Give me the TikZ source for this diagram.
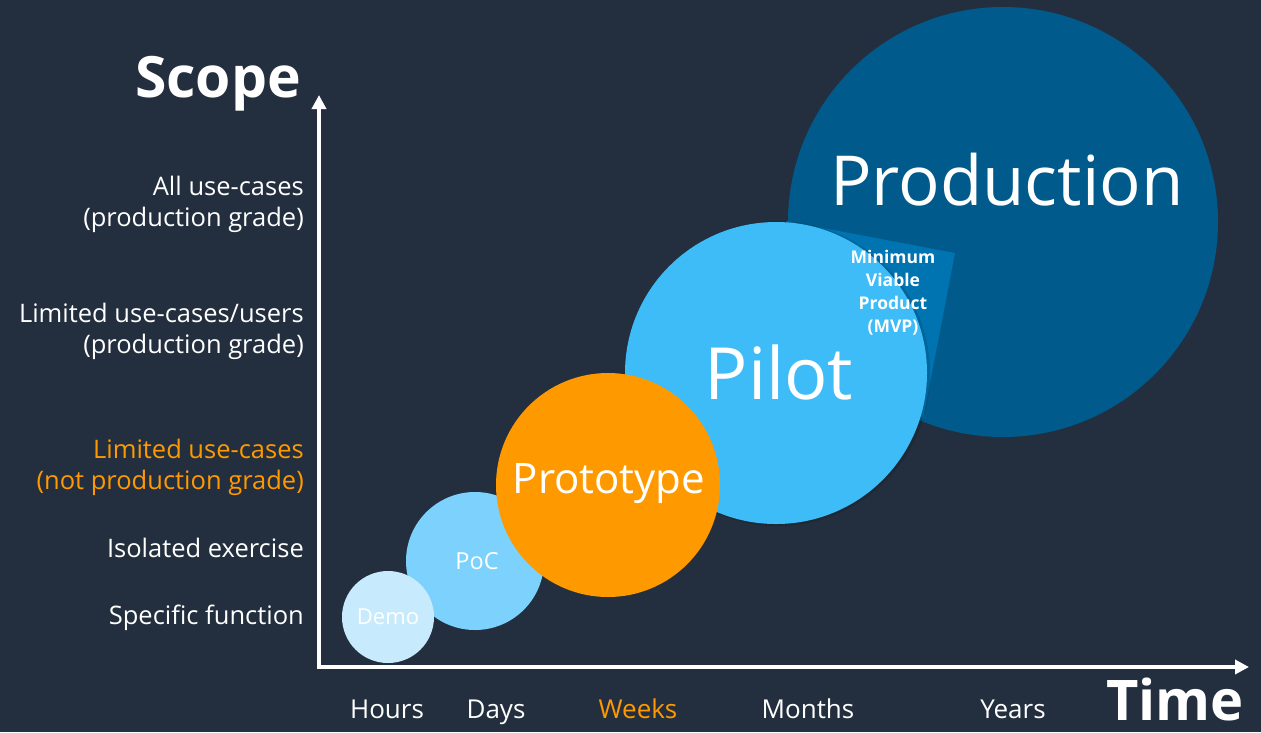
\documentclass[tikz,border=0pt]{standalone}
\usepackage{fontspec}
\setmainfont{Open Sans}
\usetikzlibrary{arrows.meta}
\definecolor{bg}{HTML}{232F3E}
\definecolor{democ}{HTML}{C7EBFD}
\definecolor{pocc}{HTML}{7CD2FC}
\definecolor{protoc}{HTML}{FF9900}
\definecolor{pilotc}{HTML}{3EBCF8}
\definecolor{prodc}{HTML}{005A8B}
\definecolor{mvpc}{HTML}{0073B1}
\definecolor{amzorange}{HTML}{FF9900}
\begin{document}
\begin{tikzpicture}[x=1pt,y=-1pt,
  ylab/.style={anchor=east,align=right,text=white,inner sep=0pt,font=\fontsize{25.5}{31}\selectfont},
  xlab/.style={anchor=base,text=white,font=\fontsize{26}{30}\selectfont},
  axis/.style={white,line width=4pt,-{Triangle[length=14pt,width=14pt]}}]
\fill[bg] (0,0) rectangle (1261,732);
\useasboundingbox (0,0) rectangle (1261,732);
% bubbles
\fill[prodc] (1003,222) circle (215);
\fill[mvpc] (786,221) -- (955,253) -- (923,419) -- cycle;
\fill[black,opacity=0.12] (777.5,373.5) circle (152.5);
\fill[pilotc] (776,373) circle (151);
\fill[pocc] (475,561) circle (69);
\fill[protoc] (608,485) circle (112);
\fill[democ] (388,617) circle (46);
% bubble labels
\node[text=white,font=\fontsize{69}{72}\selectfont] (prod) at (1007,180) {Production};
\node[text=white,font=\fontsize{72}{76}\selectfont] (pilot) at (779,372) {Pilot};
\node[text=white,font=\fontsize{42}{46}\selectfont] (proto) at (609,484) {Prototype};
\node[text=white,font=\fontsize{23.5}{26}\selectfont] (poc) at (477,561) {PoC};
\node[text=white,font=\fontsize{22}{26}\selectfont] (demo) at (388,617) {Demo};
\node[text=white,align=center,font=\bfseries\fontsize{17.5}{23}\selectfont] (mvp) at (893,293) {Minimum\\Viable\\Product\\(MVP)};
% axes
\coordinate (o) at (319,667);
\coordinate (ytip) at (319,95);
\coordinate (xtip) at (1249,667);
\draw[axis] ([yshift=2pt]o) -- (ytip);
\draw[axis] ([xshift=-2pt]o) -- (xtip);
% axis titles
\node[anchor=base east,inner sep=0pt,text=white,font=\bfseries\fontsize{57}{60}\selectfont] (scope) at (301,97) {Scope};
\node[anchor=base east,inner sep=0pt,text=white,font=\bfseries\fontsize{56}{60}\selectfont] (time) at (1244,720) {Time};
% y labels
\node[ylab] (l1) at (304,204) {All use-cases\\(production grade)};
\node[ylab] (l2) at (304,331) {Limited use-cases/users\\(production grade)};
\node[ylab,text=amzorange] (l3) at (304,467) {Limited use-cases\\(not production grade)};
\node[ylab] (l4) at (304,548) {Isolated exercise};
\node[ylab] (l5) at (304,618) {Specific function};
% x labels
\node[xlab] (hours) at (387,718) {Hours};
\node[xlab] (days) at (496,718) {Days};
\node[xlab,text=amzorange] (weeks) at (638,718) {Weeks};
\node[xlab] (months) at (808,718) {Months};
\node[xlab] (years) at (1013,718) {Years};
\end{tikzpicture}
\end{document}
